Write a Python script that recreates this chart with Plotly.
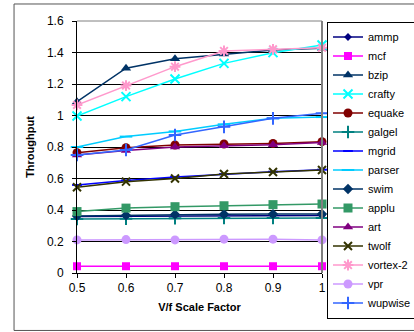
import plotly.graph_objects as go

x_vals = [0.5, 0.6, 0.7, 0.8, 0.9, 1.0]

ammp     = [0.358, 0.360, 0.362, 0.363, 0.364, 0.365]
mcf      = [0.043, 0.043, 0.043, 0.043, 0.043, 0.043]
bzip     = [1.088, 1.300, 1.360, 1.390, 1.416, 1.427]
crafty   = [0.997, 1.120, 1.232, 1.331, 1.399, 1.448]
equake   = [0.764, 0.796, 0.813, 0.819, 0.823, 0.834]
galgel   = [0.343, 0.345, 0.348, 0.350, 0.350, 0.350]
mgrid    = [0.559, 0.588, 0.610, 0.628, 0.643, 0.656]
parser   = [0.800, 0.866, 0.899, 0.944, 0.982, 0.990]
swim     = [0.362, 0.366, 0.372, 0.373, 0.374, 0.375]
applu    = [0.390, 0.412, 0.421, 0.427, 0.434, 0.438]
art      = [0.750, 0.778, 0.800, 0.808, 0.815, 0.828]
twolf    = [0.544, 0.580, 0.600, 0.629, 0.641, 0.654]
vortex2  = [1.067, 1.190, 1.310, 1.410, 1.420, 1.430]
vpr      = [0.210, 0.212, 0.210, 0.215, 0.215, 0.210]
wupwise  = [0.749, 0.781, 0.876, 0.928, 0.982, 1.014]

series = [
    ("ammp", ammp, "#000080", "diamond", 6),
    ("mcf", mcf, "#FF00FF", "square", 8),
    ("bzip", bzip, "#003366", "triangle-up", 9),
    ("crafty", crafty, "#00FFFF", "x-thin-open", 9),
    ("equake", equake, "#800000", "circle", 9),
    ("galgel", galgel, "#008080", "cross-thin-open", 9),
    ("mgrid", mgrid, "#0000FF", "line-ew-open", 7),
    ("parser", parser, "#00CCFF", "line-ew-open", 9),
    ("swim", swim, "#003366", "diamond", 8),
    ("applu", applu, "#339966", "square", 9),
    ("art", art, "#800080", "triangle-up", 9),
    ("twolf", twolf, "#333300", "x-thin-open", 8),
    ("vortex-2", vortex2, "#FF99CC", "asterisk-open", 9),
    ("vpr", vpr, "#CC99FF", "circle", 9),
    ("wupwise", wupwise, "#3366FF", "cross-thin-open", 9),
]

fig = go.Figure()
for name, vals, color, sym, size in series:
    fig.add_trace(go.Scatter(
        x=x_vals, y=vals, name=name, mode="lines+markers",
        line=dict(color=color, width=1.5),
        marker=dict(symbol=sym, size=size, color=color,
                    line=dict(color=color, width=2 if "open" in sym else 0)),
        cliponaxis=False,
    ))

font_family = "Liberation Sans, Arial, sans-serif"

fig.update_layout(
    width=414, height=332,
    margin=dict(l=77, r=92, t=21, b=59, autoexpand=False),
    paper_bgcolor="white", plot_bgcolor="white",
    font=dict(family=font_family, color="black", size=12),
    showlegend=True,
    legend=dict(
        x=1.0204, y=0.998, xanchor="left", yanchor="top",
        bgcolor="white", bordercolor="black", borderwidth=1,
        font=dict(size=11, family=font_family),
        tracegroupgap=0, maxheight=300,
    ),
    xaxis=dict(
        range=[0.5, 1.0], dtick=0.1, tick0=0.5,
        showgrid=False, zeroline=False,
        showline=True, linecolor="black", linewidth=1,
        ticks="outside", ticklen=4, tickcolor="black",
        tickfont=dict(size=12),
        title=dict(text="<b>V/f Scale Factor</b>", font=dict(size=11), standoff=8),
    ),
    yaxis=dict(
        range=[0, 1.6], dtick=0.2,
        showgrid=True, gridcolor="black", gridwidth=1,
        zeroline=False,
        showline=True, linecolor="black", linewidth=1,
        ticks="outside", ticklen=4, tickcolor="black",
        ticklabelstandoff=6,
        tickfont=dict(size=12),
        title=dict(text="<b>Throughput</b>", font=dict(size=11), standoff=10),
    ),
    shapes=[
        dict(type="line", xref="paper", yref="paper", x0=1, x1=1, y0=0, y1=1,
             line=dict(color="#808080", width=2), layer="above"),
        dict(type="line", xref="paper", yref="paper", x0=0, x1=1, y0=1, y1=1,
             line=dict(color="#808080", width=1), layer="above"),
        dict(type="rect", xref="paper", yref="paper", x0=-0.257, x1=1.45,
             y0=-0.228, y1=1.0675, line=dict(color="#555555", width=1),
             layer="below"),
    ],
)

fig.write_html("out.html", config={"displayModeBar": False},
               post_script="document.body.style.margin='0px';")
